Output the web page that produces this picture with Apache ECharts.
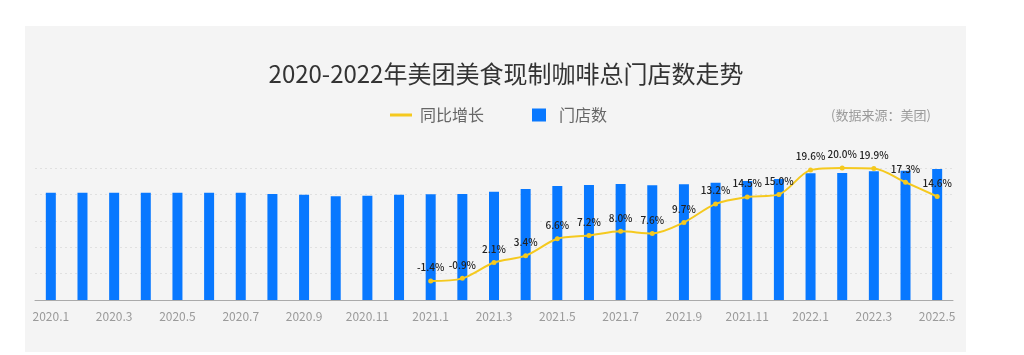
<!DOCTYPE html>
<html>
<head>
<meta charset="utf-8">
<script src="https://cdn.jsdelivr.net/npm/echarts@6/dist/echarts.min.js"></script>
<style>
html,body{margin:0;padding:0;background:#fff;}
#c{width:1024px;height:355px;}
</style>
</head>
<body>
<div id="c"></div>
<script>
const categories = ['2020.1','2020.2','2020.3','2020.4','2020.5','2020.6','2020.7','2020.8','2020.9','2020.10','2020.11','2020.12',
  '2021.1','2021.2','2021.3','2021.4','2021.5','2021.6','2021.7','2021.8','2021.9','2021.10','2021.11','2021.12',
  '2022.1','2022.2','2022.3','2022.4','2022.5'];
const storeCounts = [40640,40640,40640,40640,40640,40640,40640,40150,39890,39280,39510,39890,
  40040,40150,41020,42050,43180,43560,43940,43450,43830,44430,45080,45830,
  47990,48110,48750,48980,49620];
const yoyGrowth = ['-','-','-','-','-','-','-','-','-','-','-','-',
  -1.4,-0.9,2.1,3.4,6.6,7.2,8.0,7.6,9.7,13.2,14.5,15.0,
  19.6,20.0,19.9,17.3,14.6];

const FONT = '"Noto Sans CJK SC","Noto Sans",sans-serif';
const chart = echarts.init(document.getElementById('c'), null, {renderer:'canvas'});
chart.setOption({
  animation:false,
  backgroundColor:'#ffffff',
  textStyle:{fontFamily:FONT},
  graphic:[
    {type:'rect', z:-100, silent:true, shape:{x:25,y:26,width:941,height:326}, style:{fill:'#f4f4f4'}},
    {type:'text', left:831, top:109, silent:true, style:{text:'(数据来源：美团)', fill:'#9a9a9a', font:'13px "Noto Sans CJK SC", sans-serif'}}
  ],
  title:{
    text:'2020-2022年美团美食现制咖啡总门店数走势',
    left:501, top:57, textAlign:'center',
    textStyle:{fontSize:24, fontWeight:'normal', color:'#333', fontFamily:FONT}
  },
  legend:[
    {left:385, top:102, itemWidth:22, itemHeight:3, data:[{name:'同比增长', icon:'rect'}],
     textStyle:{fontSize:16, color:'#666', fontFamily:FONT, padding:[0,0,0,3]}},
    {left:527, top:102, itemWidth:14, itemHeight:13, data:[{name:'门店数', icon:'rect'}],
     textStyle:{fontSize:16, color:'#666', fontFamily:FONT, padding:[0,0,0,8]}}
  ],
  grid:{left:35, right:71, top:168, bottom:55, containLabel:false},
  xAxis:{
    type:'category', data:categories, boundaryGap:true,
    axisLine:{lineStyle:{color:'#aaaaaa', width:1}},
    axisTick:{show:false},
    axisLabel:{interval:1, color:'#9a9a9a', fontSize:12, margin:10, fontFamily:FONT}
  },
  yAxis:[
    {type:'value', min:0, max:50000, interval:10000, axisLabel:{show:false}, axisLine:{show:false}, axisTick:{show:false},
     splitLine:{lineStyle:{color:'#e0e0e0', type:[2,3]}}},
    {type:'value', min:-5, max:20, interval:5, axisLabel:{show:false}, axisLine:{show:false}, axisTick:{show:false},
     splitLine:{show:false}}
  ],
  series:[
    {name:'门店数', type:'bar', data:storeCounts, barWidth:10, itemStyle:{color:'#0878FF'}, yAxisIndex:0, z:2},
    {name:'同比增长', type:'line', data:yoyGrowth, yAxisIndex:1, smooth:0.3, z:5,
     symbol:'circle', symbolSize:5, connectNulls:false,
     lineStyle:{color:'#F5C91E', width:2}, itemStyle:{color:'#F5C91E'},
     label:{show:true, position:'top', distance:6, fontSize:10, fontWeight:500, color:'#222', fontFamily:FONT,
       formatter:p => Number(p.value).toFixed(1) + '%'}}
  ]
});
</script>
</body>
</html>
